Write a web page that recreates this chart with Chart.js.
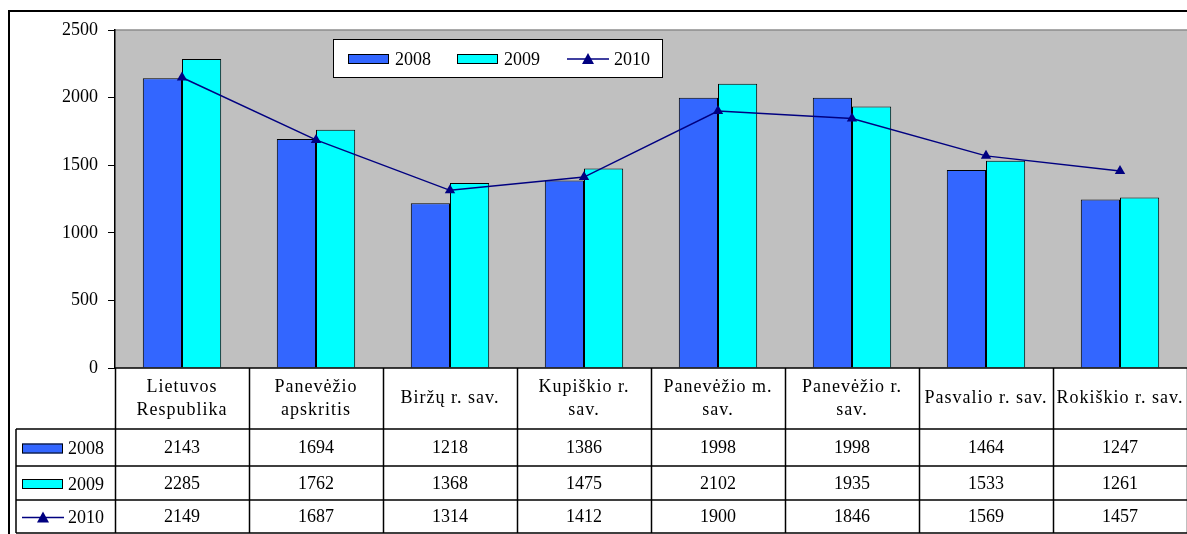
<!DOCTYPE html>
<html>
<head>
<meta charset="utf-8">
<script src="https://cdn.jsdelivr.net/npm/chart.js@4/dist/chart.umd.min.js"></script>
<style>
    body { margin: 0; background: #fff; }
    #wrap { width: 1187px; height: 534px; }
</style>
</head>
<body>
<div id="wrap"><canvas id="chart"></canvas></div>
<script>
// data
const categories = [
    ['Lietuvos', 'Respublika'],
    ['Panevėžio', 'apskritis'],
    'Biržų r. sav.',
    ['Kupiškio r.', 'sav.'],
    ['Panevėžio m.', 'sav.'],
    ['Panevėžio r.', 'sav.'],
    'Pasvalio r. sav.',
    'Rokiškio r. sav.'
];
const values2008 = [2143, 1694, 1218, 1386, 1998, 1998, 1464, 1247];
const values2009 = [2285, 1762, 1368, 1475, 2102, 1935, 1533, 1261];
const values2010 = [2149, 1687, 1314, 1412, 1900, 1846, 1569, 1457];
const seriesNames = ['2008', '2009', '2010'];

const FONT = '"Liberation Serif", "Times New Roman", serif';

function drawKey(ctx, ds, x, y) {
    ctx.save();
    if (ds.type === 'line') {
        ctx.strokeStyle = ds.borderColor;
        ctx.lineWidth = 1.5;
        ctx.beginPath();
        ctx.moveTo(x, y);
        ctx.lineTo(x + 42, y);
        ctx.stroke();
        ctx.fillStyle = ds.borderColor;
        ctx.beginPath();
        ctx.moveTo(x + 21, y - 6);
        ctx.lineTo(x + 27, y + 5);
        ctx.lineTo(x + 15, y + 5);
        ctx.closePath();
        ctx.fill();
    } else {
        ctx.fillStyle = ds.backgroundColor;
        ctx.fillRect(x, y - 5, 41, 10);
        ctx.strokeStyle = '#000';
        ctx.lineWidth = 1;
        ctx.strokeRect(x + 0.5, y - 4.5, 40, 9);
    }
    ctx.restore();
}

const excelTable = {
    id: 'excelTable',
    beforeDraw(chart) {
        const { ctx, chartArea: a } = chart;
        ctx.save();
        ctx.fillStyle = '#fff';
        ctx.fillRect(0, 0, chart.width, chart.height);
        ctx.fillStyle = '#C0C0C0';
        ctx.fillRect(a.left, a.top, a.right - a.left, a.bottom - a.top);
        ctx.strokeStyle = '#8c8c8c';
        ctx.lineWidth = 1.5;
        ctx.beginPath();
        ctx.moveTo(a.left, a.top);
        ctx.lineTo(a.right, a.top);
        ctx.stroke();
        ctx.restore();
    },
    afterDatasetsDraw(chart) {
        const { ctx } = chart;
        const dsets = chart.data.datasets;
        // legend box
        ctx.save();
        ctx.fillStyle = '#fff';
        ctx.fillRect(333, 39, 330, 39);
        ctx.strokeStyle = '#000';
        ctx.lineWidth = 1;
        ctx.strokeRect(333.5, 39.5, 329, 38);
        ctx.font = '18px ' + FONT;
        ctx.fillStyle = '#000';
        ctx.textBaseline = 'middle';
        const keyX = [348, 457, 567];
        dsets.forEach((ds, i) => {
            drawKey(ctx, ds, keyX[i], 59);
            ctx.fillText(ds.label, keyX[i] + 47, 60);
        });
        ctx.restore();
    },
    afterDraw(chart) {
        const { ctx, chartArea: a } = chart;
        const x = chart.scales.x;
        const dsets = chart.data.datasets;
        const half = (x.getPixelForValue(1) - x.getPixelForValue(0)) / 2;
        const rows = [368, 429, 466, 500, 533];
        const tableLeft = 16;

        ctx.save();
        // outer chart border
        ctx.strokeStyle = '#000';
        ctx.lineWidth = 2;
        ctx.strokeRect(9, 11, 1300, 700);

        ctx.lineWidth = 1.5;
        ctx.beginPath();
        ctx.moveTo(a.left, rows[0]);
        ctx.lineTo(a.right, rows[0]);
        for (let r = 1; r < rows.length; r++) {
            ctx.moveTo(tableLeft, rows[r]);
            ctx.lineTo(a.right, rows[r]);
        }
        ctx.moveTo(tableLeft, rows[1]);
        ctx.lineTo(tableLeft, rows[4]);
        for (let i = 0; i <= categories.length; i++) {
            const cx = Math.round(x.getPixelForValue(i) - half) + 0.5;
            ctx.moveTo(cx, rows[0]);
            ctx.lineTo(cx, rows[4]);
        }
        ctx.stroke();

        ctx.fillStyle = '#000';
        ctx.font = '18px ' + FONT;
        ctx.textAlign = 'center';
        ctx.textBaseline = 'middle';
        // header labels, a bit spaced like the original
        ctx.letterSpacing = '1px';
        const hMid = (rows[0] + rows[1]) / 2;
        categories.forEach((c, i) => {
            const lines = Array.isArray(c) ? c : [c];
            const cx = x.getPixelForValue(i);
            lines.forEach((ln, j) => {
                ctx.fillText(ln, cx, hMid + (j - (lines.length - 1) / 2) * 23);
            });
        });
        ctx.letterSpacing = '0px';
        // data rows
        dsets.forEach((ds, r) => {
            const cy = (rows[r + 1] + rows[r + 2]) / 2 + 1;
            drawKey(ctx, ds, 22, cy);
            ctx.textAlign = 'left';
            ctx.fillText(ds.label, 68, cy + 1);
            ctx.textAlign = 'center';
            ds.data.forEach((v, i) => {
                ctx.fillText(String(v), x.getPixelForValue(i), cy);
            });
        });
        ctx.restore();
    }
};

new Chart(document.getElementById('chart').getContext('2d'), {
    data: {
        labels: categories,
        datasets: [
            {
                type: 'bar',
                label: seriesNames[0],
                data: values2008,
                backgroundColor: '#3366FF',
                borderColor: '#000',
                borderWidth: 1,
                categoryPercentage: 0.585,
                barPercentage: 1,
                order: 1
            },
            {
                type: 'bar',
                label: seriesNames[1],
                data: values2009,
                backgroundColor: '#00FFFF',
                borderColor: '#000',
                borderWidth: 1,
                categoryPercentage: 0.585,
                barPercentage: 1,
                order: 1
            },
            {
                type: 'line',
                label: seriesNames[2],
                data: values2010,
                borderColor: '#000080',
                backgroundColor: '#000080',
                borderWidth: 1.5,
                pointStyle: 'triangle',
                pointRadius: 6,
                pointBorderWidth: 0,
                tension: 0,
                order: 0
            }
        ]
    },
    options: {
        responsive: true,
        maintainAspectRatio: false,
        animation: false,
        layout: {
            autoPadding: false,
            padding: { left: 9, top: 30, right: 0, bottom: 166 }
        },
        plugins: {
            legend: { display: false },
            tooltip: { enabled: false }
        },
        scales: {
            x: {
                display: false
            },
            y: {
                min: 0,
                max: 2500,
                afterFit: function(scale) { scale.width = 106; },
                ticks: {
                    stepSize: 500,
                    color: '#000',
                    padding: 10,
                    font: { family: FONT, size: 18 },
                    callback: function(v) { return String(v); }
                },
                grid: {
                    drawOnChartArea: false,
                    tickLength: 7,
                    color: '#000'
                },
                border: { color: '#000', width: 1.5 }
            }
        }
    },
    plugins: [excelTable]
});
</script>
</body>
</html>
